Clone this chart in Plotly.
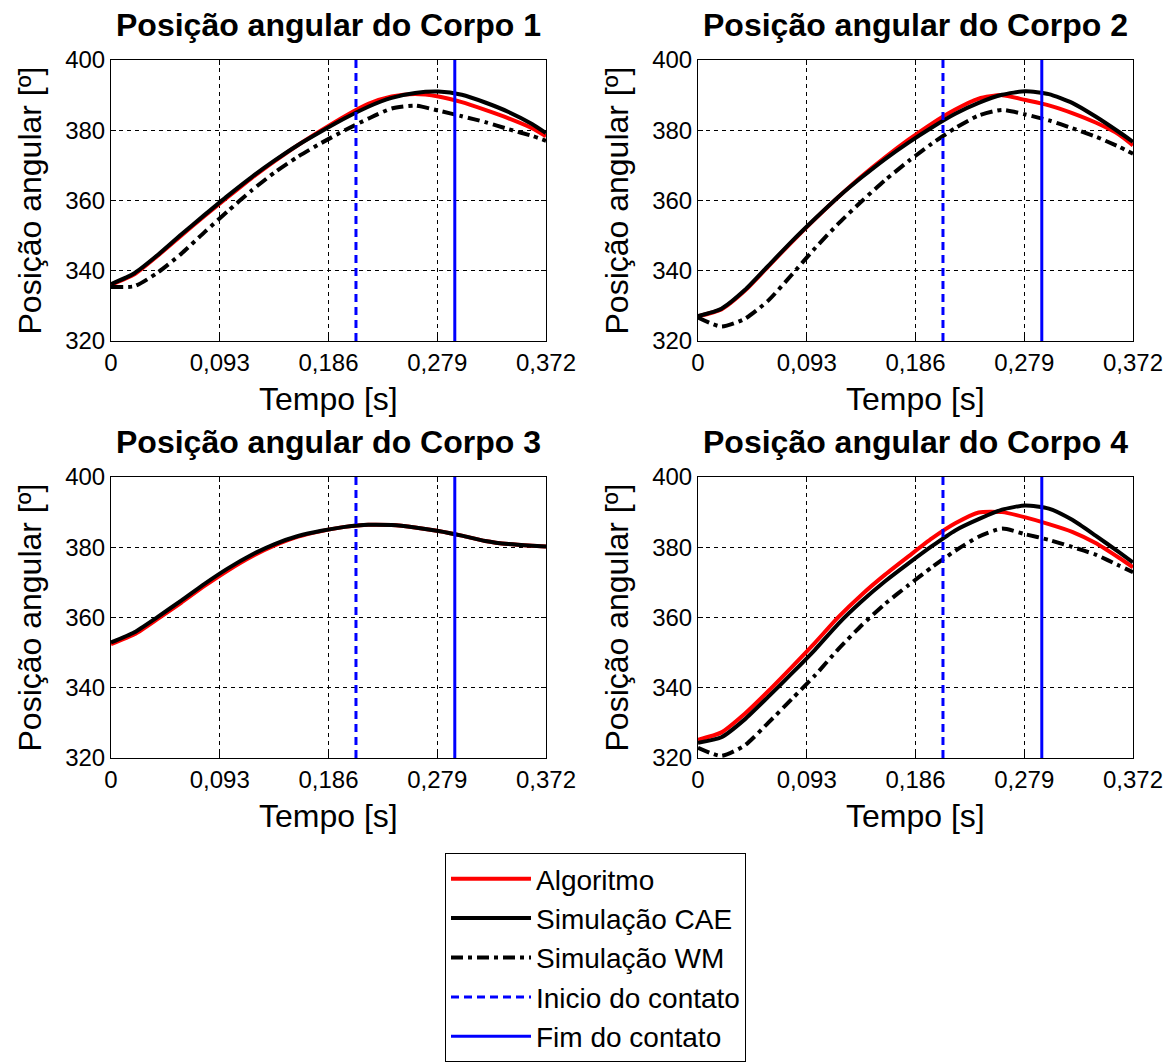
import plotly.graph_objects as go

# Tempo de simulação [s]
tempo = [0.0, 0.02, 0.04, 0.06, 0.08, 0.10, 0.12, 0.14, 0.16, 0.18,
         0.20, 0.22, 0.24, 0.26, 0.28, 0.30, 0.32, 0.34, 0.36, 0.372]

# Corpo 1
alg_1 = [336.0, 339.0, 344.3, 350.0, 355.6, 361.0, 366.3, 371.2, 375.8, 380.0,
         384.0, 387.5, 389.6, 390.3, 389.6, 388.0, 385.8, 383.4, 380.6, 378.3]
cae_1 = [336.2, 339.3, 344.5, 350.3, 355.9, 361.4, 366.6, 371.4, 375.8, 379.7,
         383.4, 386.7, 389.2, 390.6, 391.0, 390.1, 387.9, 385.2, 381.8, 379.2]
wm_1 = [335.4, 335.6, 339.5, 344.8, 351.0, 357.0, 362.8, 368.0, 372.5, 376.4,
        380.0, 383.3, 386.2, 387.0, 385.6, 384.0, 382.3, 380.3, 378.4, 377.0]

# Corpo 2
alg_2 = [327.0, 329.0, 334.3, 341.2, 348.1, 354.7, 361.0, 366.9, 372.3, 377.3,
         381.9, 385.9, 389.0, 390.0, 388.6, 387.1, 384.9, 382.2, 378.8, 375.7]
cae_2 = [327.1, 329.2, 334.5, 341.4, 348.3, 354.8, 361.0, 366.6, 371.8, 376.5,
         380.8, 384.7, 387.8, 390.1, 391.1, 390.3, 387.8, 383.9, 379.5, 376.7]
wm_2 = [326.7, 324.1, 326.3, 331.5, 338.8, 346.4, 353.4, 359.8, 365.8, 371.2,
        376.2, 380.6, 384.2, 385.8, 384.5, 382.8, 380.6, 378.2, 375.3, 373.3]

# Corpo 3
alg_3 = [352.4, 355.2, 359.6, 364.2, 369.0, 373.4, 377.3, 380.5, 383.0, 384.6,
         385.8, 386.4, 386.3, 385.6, 384.6, 383.3, 381.8, 380.9, 380.4, 380.2]
cae_3 = [352.9, 355.8, 360.2, 364.8, 369.6, 374.0, 377.8, 380.9, 383.2, 384.7,
         385.8, 386.4, 386.3, 385.6, 384.6, 383.3, 381.8, 380.9, 380.4, 380.2]

# Corpo 4
alg_4 = [325.2, 327.3, 332.6, 339.0, 345.8, 352.8, 360.1, 366.5, 372.2, 377.4,
         382.5, 386.8, 389.9, 390.0, 388.5, 386.6, 384.4, 381.2, 377.0, 374.3]
cae_4 = [324.3, 325.9, 331.0, 337.4, 344.0, 350.8, 358.2, 364.6, 370.3, 375.4,
         380.3, 384.8, 388.0, 390.7, 391.9, 391.0, 387.8, 383.3, 378.6, 375.7]
wm_4 = [322.9, 320.6, 323.6, 330.0, 336.7, 343.5, 351.0, 357.8, 363.9, 369.2,
        374.3, 379.0, 383.0, 385.3, 383.7, 382.1, 380.1, 377.9, 374.8, 372.9]

# Instantes de início e fim do contato [s]
inicio_contato = 0.2095
fim_contato = 0.294

x_ticks = [0, 0.093, 0.186, 0.279, 0.372]
x_tick_text = ["0", "0,093", "0,186", "0,279", "0,372"]
y_ticks = [320, 340, 360, 380, 400]

titulos = ["Posição angular do Corpo 1", "Posição angular do Corpo 2",
           "Posição angular do Corpo 3", "Posição angular do Corpo 4"]
rotulo_x = "Tempo [s]"
rotulo_y = "Posição angular [º]"

series = [
    (alg_1, cae_1, wm_1),
    (alg_2, cae_2, wm_2),
    (alg_3, cae_3, None),
    (alg_4, cae_4, wm_4),
]

W, H = 1175, 1062
FONT = "Liberation Sans, Arial, sans-serif"

# Área de cada gráfico em pixels: (esquerda, direita, topo, base)
caixas = [
    (111, 546, 60, 341),
    (698, 1133, 60, 341),
    (111, 546, 477, 758),
    (698, 1133, 477, 758),
]

fig = go.Figure()

for i, ((alg, cae, wm), titulo, caixa) in enumerate(zip(series, titulos, caixas)):
    n = i + 1
    xa = "x" if n == 1 else f"x{n}"
    ya = "y" if n == 1 else f"y{n}"
    leg = (n == 1)

    fig.add_trace(go.Scatter(
        x=tempo, y=alg, xaxis=xa, yaxis=ya, mode="lines", name="Algoritmo",
        legendgroup="alg", showlegend=leg,
        line=dict(color="#ff0000", width=4, shape="spline", smoothing=0.6)))
    fig.add_trace(go.Scatter(
        x=tempo, y=cae, xaxis=xa, yaxis=ya, mode="lines", name="Simulação CAE",
        legendgroup="cae", showlegend=leg,
        line=dict(color="#000000", width=4, shape="spline", smoothing=0.6)))
    if wm is not None:
        fig.add_trace(go.Scatter(
            x=tempo, y=wm, xaxis=xa, yaxis=ya, mode="lines", name="Simulação WM",
            legendgroup="wm", showlegend=leg,
            line=dict(color="#000000", width=4, dash="12px,5px,4px,5px",
                      shape="spline", smoothing=0.6)))
    fig.add_trace(go.Scatter(
        x=[inicio_contato, inicio_contato], y=[320, 400], xaxis=xa, yaxis=ya,
        mode="lines", name="Inicio do contato", legendgroup="ini", showlegend=leg,
        line=dict(color="#0000ff", width=3, dash="8px,5px")))
    fig.add_trace(go.Scatter(
        x=[fim_contato, fim_contato], y=[320, 400], xaxis=xa, yaxis=ya,
        mode="lines", name="Fim do contato", legendgroup="fim", showlegend=leg,
        line=dict(color="#0000ff", width=3)))

    l, r, t, b = caixa
    key_x = "xaxis" if n == 1 else f"xaxis{n}"
    key_y = "yaxis" if n == 1 else f"yaxis{n}"
    fig.layout[key_x] = dict(
        domain=[l / W, r / W], anchor=ya, range=[0, 0.372],
        tickvals=x_ticks, ticktext=x_tick_text,
        ticks="inside", ticklen=5, tickcolor="black",
        showline=True, linecolor="black", linewidth=1, mirror="ticks",
        showgrid=True, gridcolor="black", gridwidth=1, griddash="4px,4px",
        zeroline=False, automargin=False,
        tickfont=dict(family=FONT, size=24, color="black"))
    fig.layout[key_y] = dict(
        domain=[1 - b / H, 1 - t / H], anchor=xa, range=[320, 400],
        tickvals=y_ticks,
        ticks="inside", ticklen=5, tickcolor="black",
        showline=True, linecolor="black", linewidth=1, mirror="ticks",
        showgrid=True, gridcolor="black", gridwidth=1, griddash="4px,4px",
        zeroline=False, automargin=False,
        tickfont=dict(family=FONT, size=24, color="black"))

    # título do gráfico
    fig.add_annotation(
        text=f"<b>{titulo}</b>", xref="paper", yref="paper",
        x=(l + r) / 2 / W, y=1 - (t - 35) / H, xanchor="center", yanchor="middle",
        showarrow=False, font=dict(family=FONT, size=32, color="black"))
    # rótulo do eixo x
    fig.add_annotation(
        text=rotulo_x, xref="paper", yref="paper",
        x=(l + r) / 2 / W, y=1 - (b + 58) / H, xanchor="center", yanchor="middle",
        showarrow=False, font=dict(family=FONT, size=32, color="black"))
    # rótulo do eixo y
    fig.add_annotation(
        text=rotulo_y, xref="paper", yref="paper", textangle=-90,
        x=(l - 82) / W, y=1 - (t + b) / 2 / H, xanchor="center", yanchor="middle",
        showarrow=False, font=dict(family=FONT, size=32, color="black"))

fig.update_layout(
    width=W, height=H,
    margin=dict(l=0, r=0, t=0, b=0, autoexpand=False),
    paper_bgcolor="white", plot_bgcolor="white",
    showlegend=True,
    legend=dict(
        x=445 / W, y=1 - 853 / H, xanchor="left", yanchor="top",
        bgcolor="white", bordercolor="black", borderwidth=1,
        font=dict(family=FONT, size=28, color="black"),
        itemwidth=80, tracegroupgap=0, traceorder="normal"),
)

fig.write_html("out.html")
